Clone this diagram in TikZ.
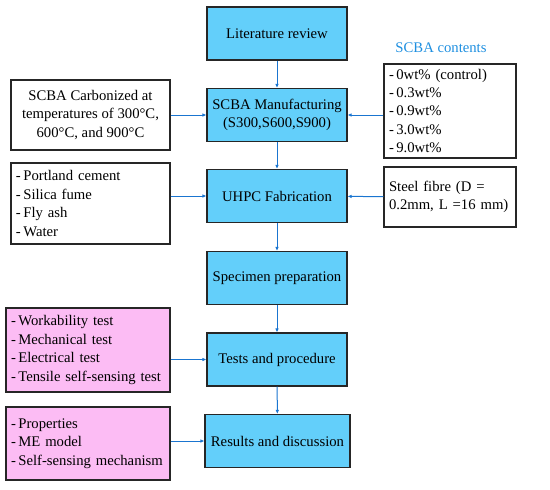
\documentclass[tikz,border=0pt]{standalone}
\usepackage{fontspec}
\setmainfont{Liberation Serif}
\usetikzlibrary{arrows.meta}
\definecolor{mainblue}{HTML}{63CFFA}
\definecolor{sidepink}{HTML}{FCBCF4}
\definecolor{arrowblue}{HTML}{1A75D0}
\definecolor{labelblue}{HTML}{1E8FE0}

\begin{document}
\begin{tikzpicture}[x=1pt, y=-1pt,
    every node/.style={draw=black!85, line width=1.1pt, inner sep=5pt,
        font=\fontsize{14.7}{18.4}\selectfont},
    mainbox/.style={fill=mainblue, minimum width=140pt, minimum height=53pt, align=center},
    sidebox/.style={fill=white, align=left, anchor=center},
    pinkbox/.style={fill=sidepink, align=left, anchor=center},
    link/.style={draw=arrowblue, line width=1pt, -{Latex[length=4pt,width=3.5pt]}}]
                \useasboundingbox (0,0) rectangle (550,490);

                \node[mainbox] (M1) at (277,33.5) {Literature review};
                \node[mainbox] (M2) at (277,115) {SCBA Manufacturing\\(S300,S600,S900)};
                \node[mainbox] (M3) at (277,196) {UHPC Fabrication};
                \node[mainbox] (M4) at (277,278) {Specimen preparation};
                \node[mainbox] (M5) at (277,359.5) {Tests and procedure};
                \node[mainbox, minimum width=145pt] (M6) at (277.5,441) {Results and discussion};

                \node[sidebox, align=center, minimum width=159pt, minimum height=70pt] (L2) at (90.5,115)
                    {SCBA Carbonized at\\temperatures of 300°C,\\600°C, and 900°C};
                \node[sidebox, minimum width=132pt, minimum height=94pt, text width=122pt] (R2) at (450,111)
                    {-\,0wt\% (control)\\-\,0.3wt\%\\-\,0.9wt\%\\-\,3.0wt\%\\-\,9.0wt\%};
                \node[draw=none, fill=none, text=labelblue] (T2) at (441,48) {SCBA contents};

                \node[sidebox, minimum width=159pt, minimum height=81pt, text width=149pt] (L3) at (90.5,203.5)
                    {-\,Portland cement\\-\,Silica fume\\-\,Fly ash\\-\,Water};
                \node[sidebox, minimum width=132pt, minimum height=60pt, text width=122pt] (R3) at (450,197)
                    {Steel fibre (D =\\0.2mm, L =16 mm)};

                \node[pinkbox, minimum width=164pt, minimum height=84pt, text width=154pt] (L5) at (88,350)
                    {-\,Workability test\\-\,Mechanical test\\-\,Electrical test\\-\,Tensile self-sensing test};
                \node[pinkbox, minimum width=164pt, minimum height=73pt, text width=154pt] (L6) at (88,443.5)
                    {-\,Properties\\-\,ME model\\-\,Self-sensing mechanism};

                \foreach \a/\b in {M1/M2, M2/M3, M3/M4, M4/M5, M5/M6}
                    \draw[link] (\a) -- (\b);

                \draw[link] (L2) -- (M2);
                \draw[link] (R2.west |- M2) -- (M2);
                \draw[link] (L3.east |- M3) -- (M3);
                \draw[link] (R3) -- (M3);
                \draw[link] (L5.east |- M5) -- (M5);
                \draw[link] (L6.east |- M6) -- (M6);
            \end{tikzpicture}
\end{document}
